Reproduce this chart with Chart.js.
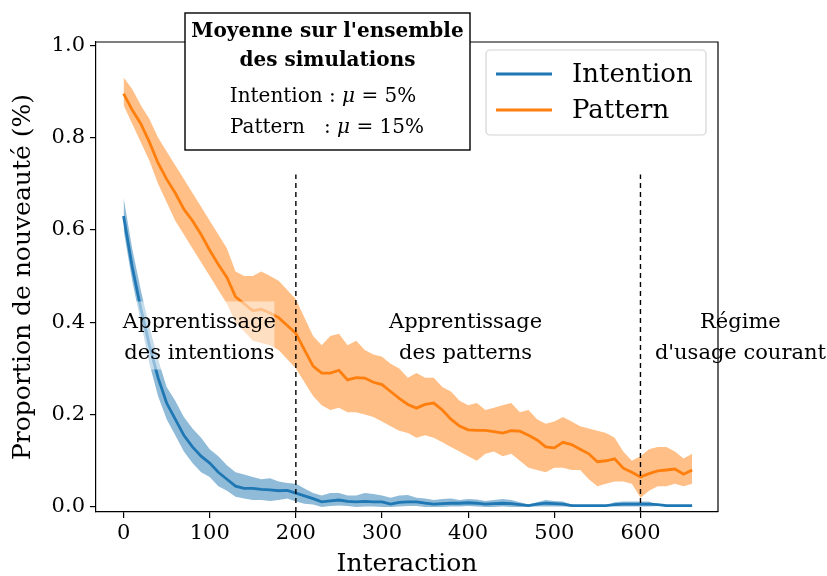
<!DOCTYPE html>
<html>
<head>
<meta charset="utf-8">
<script src="https://cdn.jsdelivr.net/npm/chart.js@4.4.1/dist/chart.umd.min.js"></script>
<style>
  body { margin: 0; background: #fff; }
  #wrap { width: 827px; height: 576px; }
</style>
</head>
<body>
<div id="wrap"><canvas id="myChart" width="827" height="576"></canvas></div>
<script>
// interaction index (one reading every 10 interactions)
const interactions = [0,10,20,30,40,50,60,70,80,90,
  100,110,120,130,140,150,160,170,180,190,
  200,210,220,230,240,250,260,270,280,290,
  300,310,320,330,340,350,360,370,380,390,
  400,410,420,430,440,450,460,470,480,490,
  500,510,520,530,540,550,560,570,580,590,
  600,610,620,630,640,650,660];

const intentionMean = [0.63,0.52,0.43,0.35,0.28,0.225,0.19,0.155,0.13,0.11,
  0.095,0.075,0.06,0.045,0.04,0.04,0.038,0.037,0.035,0.036,
  0.03,0.024,0.018,0.011,0.013,0.015,0.012,0.011,0.012,0.011,
  0.011,0.006,0.01,0.011,0.011,0.008,0.006,0.007,0.008,0.008,
  0.009,0.008,0.006,0.007,0.008,0.007,0.005,0.003,0.006,0.008,
  0.007,0.006,0.003,0.003,0.003,0.003,0.003,0.005,0.006,0.006,
  0.006,0.006,0.005,0.003,0.003,0.003,0.003];
const intentionHigh = [0.67,0.56,0.47,0.39,0.32,0.26,0.23,0.195,0.17,0.15,
  0.125,0.11,0.09,0.075,0.07,0.065,0.06,0.062,0.055,0.052,
  0.05,0.04,0.03,0.025,0.03,0.03,0.025,0.025,0.03,0.028,
  0.025,0.02,0.025,0.026,0.02,0.018,0.015,0.017,0.018,0.015,
  0.017,0.016,0.013,0.015,0.017,0.015,0.01,0.005,0.01,0.015,
  0.013,0.012,0.005,0.003,0.003,0.003,0.003,0.01,0.012,0.012,
  0.012,0.012,0.005,0.003,0.003,0.003,0.003];
const intentionLow = [0.60,0.49,0.40,0.31,0.24,0.19,0.155,0.12,0.095,0.075,
  0.065,0.045,0.035,0.022,0.018,0.015,0.015,0.013,0.015,0.018,
  0.012,0.007,0.005,0,0.002,0.003,0.002,0,0.001,0.001,
  0,0,0.001,0.002,0.002,0,0,0,0.001,0.001,
  0.002,0.001,0,0,0.001,0,0,0.001,0.001,0.001,
  0.001,0.001,0.001,0.003,0.003,0.003,0.003,0.001,0.001,0.001,
  0.001,0.001,0.002,0.003,0.003,0.003,0.003];

const patternMean = [0.895,0.86,0.83,0.79,0.745,0.71,0.68,0.645,0.62,0.59,
  0.556,0.525,0.497,0.455,0.44,0.425,0.428,0.42,0.41,0.393,
  0.376,0.34,0.305,0.29,0.29,0.296,0.275,0.28,0.279,0.27,
  0.265,0.25,0.235,0.222,0.214,0.222,0.225,0.21,0.19,0.175,
  0.167,0.166,0.166,0.163,0.16,0.165,0.164,0.155,0.145,0.13,
  0.128,0.14,0.135,0.125,0.115,0.098,0.1,0.104,0.084,0.075,
  0.065,0.072,0.078,0.08,0.082,0.071,0.08];
const patternHigh = [0.93,0.905,0.87,0.84,0.80,0.77,0.74,0.71,0.68,0.65,
  0.62,0.59,0.56,0.51,0.50,0.50,0.51,0.50,0.49,0.47,
  0.45,0.41,0.37,0.35,0.37,0.375,0.35,0.36,0.34,0.33,
  0.325,0.31,0.30,0.28,0.29,0.28,0.28,0.26,0.25,0.23,
  0.22,0.225,0.21,0.215,0.22,0.225,0.205,0.21,0.19,0.18,
  0.185,0.195,0.185,0.175,0.17,0.165,0.16,0.15,0.12,0.10,
  0.11,0.125,0.13,0.13,0.12,0.105,0.115];
const patternLow = [0.87,0.83,0.79,0.75,0.70,0.66,0.62,0.59,0.56,0.53,
  0.50,0.47,0.44,0.40,0.38,0.36,0.355,0.35,0.34,0.32,
  0.30,0.27,0.24,0.22,0.21,0.215,0.205,0.205,0.20,0.195,
  0.185,0.175,0.165,0.16,0.15,0.155,0.15,0.14,0.13,0.12,
  0.11,0.10,0.115,0.12,0.11,0.115,0.10,0.085,0.08,0.075,
  0.085,0.085,0.08,0.08,0.06,0.045,0.05,0.055,0.055,0.05,
  0.02,0.035,0.045,0.045,0.05,0.045,0.05];

// phase boundaries (dashed lines) and tick labels
const phaseLimits = [200, 600];
const phaseTop = 0.72;
const xTicks = [0, 100, 200, 300, 400, 500, 600];
const yTicks = [0.0, 0.2, 0.4, 0.6, 0.8, 1.0];

const SERIF = "'DejaVu Serif', serif";
const BLUE = "#1f77b4";
const ORANGE = "#ff7f0e";

function pts(ys) {
  return interactions.map((x, i) => ({ x: x, y: ys[i] }));
}

const datasets = [
  { label: "patternHigh", data: pts(patternHigh), fill: 1, backgroundColor: "rgba(255,127,14,0.5)", borderWidth: 0, pointRadius: 0, order: 6 },
  { label: "patternLow", data: pts(patternLow), fill: false, borderWidth: 0, pointRadius: 0, order: 6 },
  { label: "intentionHigh", data: pts(intentionHigh), fill: 3, backgroundColor: "rgba(31,119,180,0.5)", borderWidth: 0, pointRadius: 0, order: 7 },
  { label: "intentionLow", data: pts(intentionLow), fill: false, borderWidth: 0, pointRadius: 0, order: 7 },
  { label: "Intention", data: pts(intentionMean), borderColor: BLUE, borderWidth: 2.8, pointRadius: 0, fill: false, order: 3 },
  { label: "Pattern", data: pts(patternMean), borderColor: ORANGE, borderWidth: 2.8, pointRadius: 0, fill: false, order: 2 }
];
phaseLimits.forEach((p) => {
  datasets.push({
    label: "limit" + p,
    data: [{ x: p, y: -0.011 }, { x: p, y: phaseTop }],
    borderColor: "#000", borderWidth: 1.4, borderDash: [5, 4],
    pointRadius: 0, fill: false, order: 1
  });
});

// annotations placed in data coordinates
const phaseNotes = [
  { x: 88, y: 0.367, lines: ["Apprentissage", "des intentions"], box: true },
  { x: 397, y: 0.367, lines: ["Apprentissage", "des patterns"], box: false },
  { x: 716, y: 0.367, lines: ["Régime", "d'usage courant"], box: false }
];

function drawRuns(ctx, runs, cx, y) {
  let total = 0;
  runs.forEach((r) => { ctx.font = r.font; total += ctx.measureText(r.t).width; });
  let xx = cx - total / 2;
  ctx.textAlign = "left";
  runs.forEach((r) => {
    ctx.font = r.font;
    ctx.fillText(r.t, xx, y);
    xx += ctx.measureText(r.t).width;
  });
}

const overlay = {
  id: "overlay",
  afterDatasetsDraw(chart) {
    const ctx = chart.ctx;
    const x = chart.scales.x, y = chart.scales.y;
    ctx.save();
    ctx.font = "21px " + SERIF;
    ctx.textBaseline = "middle";
    ctx.textAlign = "center";
    phaseNotes.forEach((n) => {
      const px = x.getPixelForValue(n.x);
      const py = y.getPixelForValue(n.y);
      if (n.box) {
        ctx.fillStyle = "rgba(255,255,255,0.5)";
        ctx.fillRect(px - 81, py - 36, 156, 68);
      }
      ctx.fillStyle = "#000";
      ctx.textAlign = "center";
      ctx.fillText(n.lines[0], px, py - 15);
      ctx.fillText(n.lines[1], px, py + 16);
    });
    ctx.restore();
  },
  afterDraw(chart) {
    const ctx = chart.ctx;
    const a = chart.chartArea;
    ctx.save();
    // top and right spines
    ctx.strokeStyle = "#000";
    ctx.lineWidth = 1.2;
    ctx.beginPath();
    ctx.moveTo(a.left, a.top);
    ctx.lineTo(a.right, a.top);
    ctx.lineTo(a.right, a.bottom);
    ctx.stroke();

    // axis titles
    ctx.fillStyle = "#000";
    ctx.textBaseline = "middle";
    ctx.textAlign = "center";
    ctx.font = "25px " + SERIF;
    ctx.fillText("Interaction", (a.left + a.right) / 2, 564);
    ctx.save();
    ctx.translate(23, (a.top + a.bottom) / 2);
    ctx.rotate(-Math.PI / 2);
    ctx.fillText("Proportion de nouveauté (%)", 0, 0);
    ctx.restore();

    // info box
    ctx.fillStyle = "#fff";
    ctx.fillRect(185, 13, 285, 137);
    ctx.strokeStyle = "#000";
    ctx.lineWidth = 1.4;
    ctx.strokeRect(185, 13, 285, 137);
    ctx.fillStyle = "#000";
    ctx.font = "bold 20px " + SERIF;
    ctx.textAlign = "center";
    ctx.fillText("Moyenne sur l'ensemble", 327.5, 32);
    ctx.fillText("des simulations", 327.5, 61);
    const nf = "20px " + SERIF, itf = "italic 20px " + SERIF;
    drawRuns(ctx, [{ t: "Intention : ", font: nf }, { t: "\u03bc", font: itf }, { t: " = 5%", font: nf }], 323, 97);
    drawRuns(ctx, [{ t: "Pattern   : ", font: nf }, { t: "\u03bc", font: itf }, { t: " = 15%", font: nf }], 327, 128);

    // legend
    ctx.fillStyle = "rgba(255,255,255,0.8)";
    ctx.strokeStyle = "#d4d4d4";
    ctx.lineWidth = 1.2;
    ctx.beginPath();
    ctx.roundRect(486, 50, 220, 85, 4);
    ctx.fill();
    ctx.stroke();
    [["Intention", BLUE, 74], ["Pattern", ORANGE, 110]].forEach((e) => {
      ctx.strokeStyle = e[1];
      ctx.lineWidth = 2.8;
      ctx.beginPath();
      ctx.moveTo(496, e[2]);
      ctx.lineTo(552, e[2]);
      ctx.stroke();
      ctx.fillStyle = "#000";
      ctx.font = "26px " + SERIF;
      ctx.textAlign = "left";
      ctx.fillText(e[0], 572, e[2] + 1);
    });
    ctx.restore();
  }
};

Chart.defaults.font.family = SERIF;
Chart.defaults.color = "#000";

const ctx = document.getElementById("myChart");
const myChart = new Chart(ctx, {
  type: "line",
  data: { datasets: datasets },
  options: {
    responsive: false,
    devicePixelRatio: 1,
    animation: false,
    layout: { padding: { top: 42, right: 109, left: 0, bottom: 0 } },
    plugins: { legend: { display: false }, tooltip: { enabled: false } },
    elements: { line: { tension: 0 } },
    scales: {
      x: {
        type: "linear",
        min: -32,
        max: 690,
        afterFit: (s) => { s.height = 64; },
        afterBuildTicks: (s) => { s.ticks = xTicks.map((v) => ({ value: v })); },
        grid: { display: true, drawOnChartArea: false, drawTicks: true, tickLength: 6, color: "#000", lineWidth: 1.2 },
        border: { display: true, color: "#000", width: 1.2 },
        ticks: { font: { size: 21 }, padding: 3, maxRotation: 0, callback: (v) => String(v) }
      },
      y: {
        type: "linear",
        min: -0.011,
        max: 1.007,
        afterFit: (s) => { s.width = 96; },
        afterBuildTicks: (s) => { s.ticks = yTicks.map((v) => ({ value: v })); },
        grid: { display: true, drawOnChartArea: false, drawTicks: true, tickLength: 6, color: "#000", lineWidth: 1.2 },
        border: { display: true, color: "#000", width: 1.2 },
        ticks: { font: { size: 21 }, padding: 5, callback: (v) => Number(v).toFixed(1) }
      }
    }
  },
  plugins: [overlay]
});
</script>
</body>
</html>
